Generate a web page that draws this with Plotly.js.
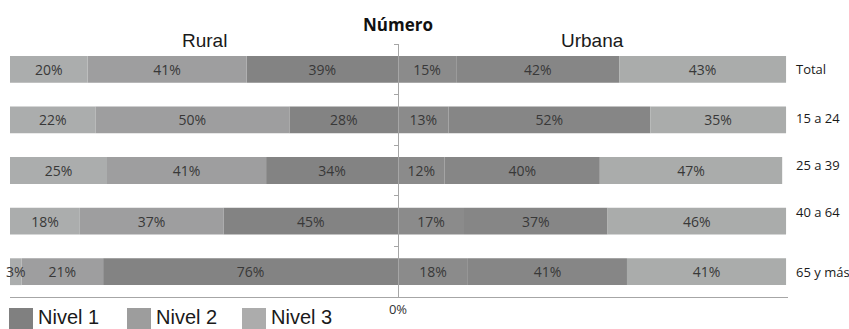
<!DOCTYPE html>
<html>
<head>
<meta charset="utf-8">
<script src="https://cdn.plot.ly/plotly-3.0.1.min.js"></script>
<style>
  html, body { margin: 0; padding: 0; background: #fff; }
  #chart { width: 849px; height: 329px; }
</style>
</head>
<body>
<div id="chart"></div>
<script>
// Age groups (rows, top to bottom)
const categories = ['Total', '15 a 24', '25 a 39', '40 a 64', '65 y más'];
const levelNames = ['Nivel 1', 'Nivel 2', 'Nivel 3'];

// Rural shares (%), drawn to the left of 0
const ruralNivel1 = [39, 28, 34, 45, 76];
const ruralNivel2 = [41, 50, 41, 37, 21];
const ruralNivel3 = [20, 22, 25, 18, 3];

// Urban shares (%), drawn to the right of 0
const urbanNivel1 = [15, 13, 12, 17, 18];
const urbanNivel2 = [42, 52, 40, 37, 41];
const urbanNivel3 = [43, 35, 47, 46, 41];

// Styling
const ruralColors = ['#838383', '#9e9e9f', '#abadad'];
const urbanColors = ['#8b8b8b', '#868686', '#aaacab'];
const legendColors = ['#808080', '#9d9d9d', '#acacac'];
const rowLabelShift = [0, 2, 6, 9, 0];

const W = 849, H = 329;
const M = { l: 10, r: 61, t: 44, b: 32 };
const plotW = W - M.l - M.r, plotH = H - M.t - M.b;
const xRange = [-100, 100.5];
const px2x = px => (px - M.l) / plotW;
const py2y = py => (M.t + plotH - py) / plotH;

const ruralSeries = [ruralNivel1, ruralNivel2, ruralNivel3];
const urbanSeries = [urbanNivel1, urbanNivel2, urbanNivel3];

const barText = {
  textposition: 'inside',
  insidetextanchor: 'middle',
  textangle: 0,
  constraintext: 'none',
  cliponaxis: false,
  textfont: { family: 'Open Sans, sans-serif', size: 14, color: '#383838' },
  hoverinfo: 'skip',
  showlegend: false,
  orientation: 'h'
};

const traces = [];
levelNames.forEach((name, i) => {
  traces.push(Object.assign({
    type: 'bar', name: name + ' (Rural)', y: categories,
    x: ruralSeries[i].map(v => -v),
    text: ruralSeries[i].map(v => v + '%'),
    marker: { color: ruralColors[i], line: { width: 0 } }
  }, barText));
  traces.push(Object.assign({
    type: 'bar', name: name + ' (Urbana)', y: categories,
    x: urbanSeries[i],
    text: urbanSeries[i].map(v => v + '%'),
    marker: { color: urbanColors[i], line: { width: 0 } }
  }, barText));
});

const annotations = [
  { text: '<b>Número</b>', xref: 'x', x: 0, yref: 'paper', y: py2y(25),
    showarrow: false, xanchor: 'center', yanchor: 'middle',
    font: { family: 'Open Sans, sans-serif', size: 17, color: '#111' } },
  { text: 'Rural', xref: 'x', x: -50, yref: 'paper', y: py2y(40),
    showarrow: false, xanchor: 'center', yanchor: 'middle',
    font: { family: 'Liberation Sans, Arial, sans-serif', size: 19, color: '#1a1a1a' } },
  { text: 'Urbana', xref: 'x', x: 50, yref: 'paper', y: py2y(40),
    showarrow: false, xanchor: 'center', yanchor: 'middle',
    font: { family: 'Liberation Sans, Arial, sans-serif', size: 19, color: '#1a1a1a' } }
];

categories.forEach((c, i) => {
  annotations.push({
    text: c, xref: 'paper', x: 1, xshift: 6, xanchor: 'left',
    yref: 'y', y: c, yanchor: 'middle', yshift: rowLabelShift[i],
    showarrow: false,
    font: { family: 'Open Sans, sans-serif', size: 13, color: '#1a1a1a' }
  });
});

// Legend drawn as swatches + labels along the bottom
const legendSwatchX = [9, 127, 242];
const shapes = [];
levelNames.forEach((name, i) => {
  shapes.push({
    type: 'rect', xref: 'paper', yref: 'paper', layer: 'above',
    x0: px2x(legendSwatchX[i]), x1: px2x(legendSwatchX[i] + 24),
    y0: py2y(308), y1: py2y(334),
    fillcolor: legendColors[i], line: { width: 0 }
  });
  annotations.push({
    text: name, xref: 'paper', x: px2x(legendSwatchX[i] + 27), xanchor: 'left',
    yref: 'paper', y: py2y(317), yanchor: 'middle', showarrow: false,
    font: { family: 'Liberation Sans, Arial, sans-serif', size: 20, color: '#1a1a1a' }
  });
});

const layout = {
  width: W, height: H,
  margin: M,
  paper_bgcolor: '#fff', plot_bgcolor: '#fff',
  barmode: 'relative',
  bargap: 0.47,
  showlegend: false,
  xaxis: {
    range: xRange, fixedrange: true,
    showgrid: false, zeroline: false,
    showline: true, linecolor: '#a6a6a6', linewidth: 1,
    tickvals: [0], ticktext: ['0%'], ticks: '',
    tickfont: { family: 'Open Sans, sans-serif', size: 13, color: '#333' }
  },
  yaxis: {
    type: 'category', autorange: 'reversed', fixedrange: true,
    anchor: 'free', position: (0 - xRange[0]) / (xRange[1] - xRange[0]),
    showgrid: false, zeroline: false,
    showline: true, linecolor: '#a6a6a6', linewidth: 1,
    ticks: 'outside', ticklen: 4, tickcolor: '#a6a6a6', tickson: 'boundaries',
    showticklabels: false, automargin: false
  },
  annotations: annotations,
  shapes: shapes
};

Plotly.newPlot('chart', traces, layout, { displayModeBar: false, staticPlot: true });
</script>
</body>
</html>
